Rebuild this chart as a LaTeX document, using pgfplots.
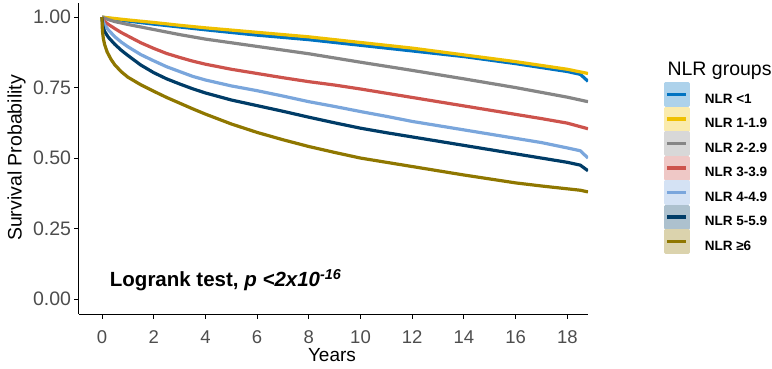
\documentclass[border=0pt]{standalone}
\usepackage{fontspec}
\setmainfont{Liberation Sans}
\usepackage{pgfplots}
\pgfplotsset{compat=1.18}
\definecolor{c1}{HTML}{0073C2}
\definecolor{c2}{HTML}{EFC000}
\definecolor{c3}{HTML}{868686}
\definecolor{c4}{HTML}{CD534C}
\definecolor{c5}{HTML}{7AA6DC}
\definecolor{c6}{HTML}{003C67}
\definecolor{c7}{HTML}{8F7700}
\definecolor{tickgrey}{HTML}{4D4D4D}
\pgfplotsset{kmleg/.style={legend image code/.code={%
  \fill[#1!32] (0pt,-6.1pt) rectangle (22.6pt,15.6pt);
  \draw[#1, line width=3.3pt] (1.8pt,4.75pt) -- (20.8pt,4.75pt);}}}
\begin{document}
\begin{tikzpicture}
\path[use as bounding box] (0pt,0pt) rectangle (772pt,368pt);
\begin{axis}[
  at={(79pt,54pt)}, anchor=south west,
  scale only axis, width=509pt, height=311pt,
  xmin=-0.89, xmax=18.8, ymin=-0.053, ymax=1.05,
  axis lines*=left,
  axis line style={black, line width=1pt},
  xtick={0,2,...,18}, ytick={0,0.25,0.5,0.75,1},
  yticklabels={0.00,0.25,0.50,0.75,1.00},
  tick align=outside, major tick length=4.5pt,
  tick style={black, line width=0.9pt},
  xticklabel style={font=\fontsize{18.5}{20}\selectfont, text=tickgrey, yshift=-9pt},
  yticklabel style={font=\fontsize{19.5}{21}\selectfont, text=tickgrey},
  /pgf/number format/assume math mode=true,
  xlabel={Years}, ylabel={Survival Probability},
  xlabel style={font=\fontsize{19}{22}\selectfont, at={(axis description cs:0.497,-0.154)}, anchor=base},
  ylabel style={font=\fontsize{19.5}{22}\selectfont, at={(axis description cs:-0.1224,0.5016)}, anchor=center},
  legend style={at={(1.149,0.746)}, anchor=north west, draw=none, fill=none,
    inner sep=0pt, row sep=-0.4pt, font=\bfseries\fontsize{13.5}{15}\selectfont,
    /tikz/every odd column/.append style={column sep=13pt}},
  legend cell align=left,
  every axis plot/.append style={line width=3.2pt, line join=round},
]
\addplot[c1, kmleg=c1] coordinates {(0,1) (0.25,0.996) (0.5,0.993) (1,0.986) (2,0.975) (3,0.965) (4,0.955) (6,0.936) (8,0.92) (10,0.90) (12,0.88) (14,0.86) (16,0.835) (18,0.807) (18.5,0.797) (18.65,0.785) (18.8,0.772)};
\addlegendentry{NLR <1}
\addplot[c2, kmleg=c2] coordinates {(0,1) (0.5,0.995) (1,0.99) (2,0.981) (3,0.971) (4,0.962) (6,0.946) (8,0.93) (10,0.91) (12,0.89) (14,0.866) (16,0.842) (18,0.815) (18.8,0.80)};
\addlegendentry{NLR 1-1.9}
\addplot[c3, kmleg=c3] coordinates {(0,1) (0.1,0.996) (0.25,0.991) (0.5,0.984) (1,0.974) (1.5,0.965) (2,0.956) (3,0.938) (4,0.922) (5,0.909) (6,0.896) (8,0.87) (10,0.84) (12,0.811) (14,0.781) (16,0.75) (18,0.716) (18.8,0.70)};
\addlegendentry{NLR 2-2.9}
\addplot[c4, kmleg=c4] coordinates {(0,1) (0.05,0.99) (0.1,0.984) (0.25,0.974) (0.5,0.959) (0.75,0.945) (1,0.933) (1.5,0.909) (2,0.889) (2.5,0.871) (3,0.857) (3.5,0.844) (4,0.833) (5,0.815) (6,0.80) (7,0.785) (8,0.771) (9,0.759) (10,0.745) (11,0.73) (12,0.715) (13,0.70) (14,0.685) (15,0.67) (16,0.655) (17,0.64) (18,0.624) (18.8,0.604)};
\addlegendentry{NLR 3-3.9}
\addplot[c5, kmleg=c5] coordinates {(0,1) (0.05,0.982) (0.1,0.972) (0.25,0.954) (0.5,0.93) (0.75,0.911) (1,0.895) (1.5,0.867) (2,0.845) (2.5,0.824) (3,0.807) (3.5,0.79) (4,0.777) (5,0.756) (6,0.739) (7,0.72) (8,0.70) (9,0.683) (10,0.665) (11,0.648) (12,0.63) (13,0.615) (14,0.60) (15,0.585) (16,0.57) (17,0.555) (18,0.536) (18.5,0.526) (18.8,0.50)};
\addlegendentry{NLR 4-4.9}
\addplot[c6, kmleg=c6] coordinates {(0,1) (0.02,0.975) (0.05,0.962) (0.1,0.949) (0.25,0.928) (0.5,0.903) (0.75,0.882) (1,0.864) (1.5,0.83) (2,0.803) (2.5,0.781) (3,0.763) (3.5,0.746) (4,0.731) (5,0.706) (6,0.686) (7,0.666) (8,0.645) (9,0.625) (10,0.606) (11,0.59) (12,0.575) (13,0.56) (14,0.545) (15,0.53) (16,0.515) (17,0.50) (18,0.485) (18.5,0.475) (18.8,0.455)};
\addlegendentry{NLR 5-5.9}
\addplot[c7, kmleg=c7] coordinates {(0,1) (0.01,0.965) (0.02,0.948) (0.05,0.925) (0.1,0.903) (0.2,0.876) (0.35,0.85) (0.5,0.83) (0.75,0.806) (1,0.787) (1.5,0.76) (2,0.737) (2.5,0.715) (3,0.695) (3.5,0.675) (4,0.656) (5,0.621) (6,0.591) (7,0.565) (8,0.541) (9,0.52) (10,0.50) (11,0.485) (12,0.47) (13,0.455) (14,0.44) (15,0.426) (16,0.412) (17,0.401) (18,0.391) (18.5,0.386) (18.8,0.38)};
\addlegendentry{NLR ≥6}
\node[anchor=base west, font=\bfseries\fontsize{20.5}{22}\selectfont] at (axis cs:0.17,0.044) {Logrank test, \textit{p <2x10\textsuperscript{-16}}};
\end{axis}
\node[anchor=base west, font=\fontsize{19.5}{22}\selectfont] at (664pt,293pt) {NLR groups};
\end{tikzpicture}
\end{document}
